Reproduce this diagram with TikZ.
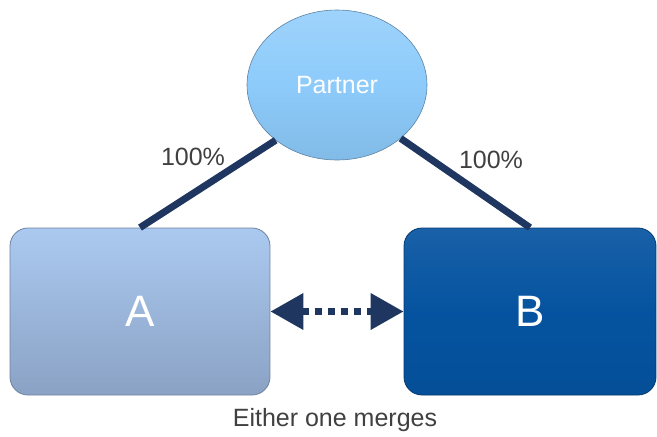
\documentclass[tikz,border=0pt]{standalone}
\usepackage{fontspec}
\setmainfont{Liberation Sans}
\usetikzlibrary{arrows.meta, positioning, shapes.geometric}

\definecolor{navy}{HTML}{1F3760}
\definecolor{textgray}{HTML}{404040}
\definecolor{partnerblue}{HTML}{8DCBFB}
\definecolor{lightA}{HTML}{ABC9F0}
\definecolor{darkA}{HTML}{8AA2C4}
\definecolor{deepB}{HTML}{0553A0}

\begin{document}
\begin{tikzpicture}[
        x=1pt, y=-1pt,
        every node/.style={font=\fontsize{25}{30}\selectfont},
        box/.style={rectangle, rounded corners=18pt, minimum height=167pt,
            inner sep=0pt, text=white, font=\fontsize{44}{50}\selectfont},
        link/.style={navy, line width=7pt},
        pct/.style={text=textgray}
    ]
    \useasboundingbox (0,0) rectangle (657,437);
    \node (partner) at (337,85) [ellipse, minimum width=180pt, minimum height=150pt,
        inner sep=0pt, top color=partnerblue!85!white, bottom color=partnerblue!92!black,
        middle color=partnerblue, draw=partnerblue!65!black, line width=0.6pt,
        text=white] {Partner};
    \node (boxA) at (140,311.5) [box, minimum width=260pt, top color=lightA,
        bottom color=darkA, draw=darkA!80!black, line width=0.8pt] {A};
    \node (boxB) at (530,311.5) [box, minimum width=252pt, top color=deepB!92!white,
        bottom color=deepB!95!black, middle color=deepB, draw=deepB!70!black,
        line width=0.8pt] {B};
    \draw[link] (boxA.north) -- (partner.222);
    \draw[link] (boxB.north) -- (partner.-40);
    \node (pctA) at (193,157) [pct] {100\%};
    \node (pctB) at (491,160) [pct] {100\%};
    \draw[navy, line width=7pt, dash pattern=on 7pt off 6pt,
        {Triangle[length=33pt, width=35pt]}-{Triangle[length=33pt, width=35pt]}]
        (boxA.east) -- (boxB.west);
    \node (merge) at (335,420) [text=textgray] {Either one merges};
\end{tikzpicture}
\end{document}
